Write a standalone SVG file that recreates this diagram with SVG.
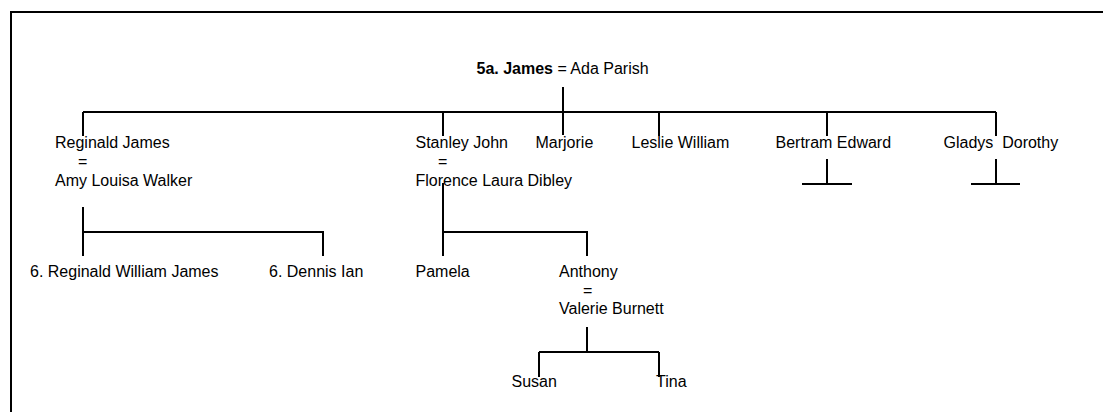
<svg xmlns="http://www.w3.org/2000/svg" width="1103" height="412" viewBox="0 0 1103 412">
<style>
text{font-family:"Liberation Sans",Arial,sans-serif;font-size:16px;fill:#000}
.b{font-weight:bold}
.ln{stroke:#000;stroke-width:2;fill:none}
</style>
<rect x="0" y="0" width="1103" height="412" fill="#fff"/>
<rect x="11" y="12" width="1200" height="500" class="ln"/>
<g id="connectors">
<path class="ln" d="M563 87V135"/>
<path class="ln" d="M83 112H996"/>
<path class="ln" d="M83 112V136M443 112V136M659 112V136M827 112V136M996 112V136"/>
<path class="ln" d="M827 159V184M802 184H852"/>
<path class="ln" d="M996 159V184M971 184H1020"/>
<path class="ln" d="M83 207V256M83 232H323V256"/>
<path class="ln" d="M443 183V256M443 232H587V256"/>
<path class="ln" d="M587 327V352M539 352H659M539 352V377M659 352V377"/>
</g>
<g id="n-james"><text x="476.5" y="74"><tspan class="b">5a. James</tspan> = Ada Parish</text></g>
<g id="n-reginald"><text x="55" y="148">Reginald James</text><text x="78" y="167">=</text><text x="55" y="185.5">Amy Louisa Walker</text></g>
<g id="n-stanley"><text x="415.5" y="148">Stanley John</text><text x="438" y="167">=</text><text x="415.5" y="185.5">Florence Laura Dibley</text></g>
<g id="n-marjorie"><text x="535.5" y="148">Marjorie</text></g>
<g id="n-leslie"><text x="631.5" y="148">Leslie William</text></g>
<g id="n-bertram"><text x="775.5" y="148">Bertram Edward</text></g>
<g id="n-gladys"><text x="943.5" y="148" xml:space="preserve">Gladys  Dorothy</text></g>
<g id="n-reginald-william"><text x="30" y="277">6. Reginald William James</text></g>
<g id="n-dennis"><text x="269" y="277">6. Dennis Ian</text></g>
<g id="n-pamela"><text x="415.5" y="277">Pamela</text></g>
<g id="n-anthony"><text x="559" y="277">Anthony</text><text x="583" y="295.7">=</text><text x="559" y="314.3">Valerie Burnett</text></g>
<g id="n-susan"><text x="511.5" y="386.7">Susan</text></g>
<g id="n-tina"><text x="656" y="386.7">Tina</text></g>
</svg>
